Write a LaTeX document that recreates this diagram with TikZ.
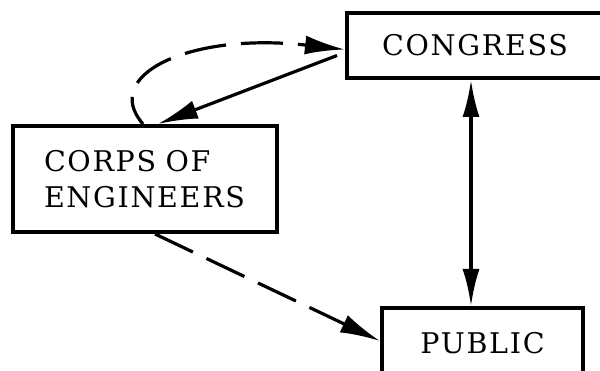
\documentclass[tikz,border=0pt]{standalone}
\usepackage{fontspec}
\usetikzlibrary{arrows.meta,calc}
\newfontfamily\lblfam{DejaVu Serif}[LetterSpace=6]
\newcommand\lblfont{\lblfam\fontsize{28.5}{36}\selectfont}
\begin{document}
\begin{tikzpicture}[x=1pt,y=-1pt,
  boxnode/.style={draw,line width=4pt,inner sep=0pt,font=\lblfont},
  conn/.style={line width=3.2pt},
  dashconn/.style={conn,dash pattern=on 42pt off 15pt},
  headA/.tip={Latex[length=40pt,width=19pt]},
  headB/.tip={Latex[length=37pt,width=17pt]}]
\useasboundingbox (0,0) rectangle (600,371);
\clip (0,0) rectangle (600,371);
\node[boxnode,minimum width=256pt,minimum height=65pt] (congress) at (475,45.5) {CONGRESS};
\node[boxnode,text width=202pt,inner xsep=31pt,minimum height=106pt,align=left] (corps) at (145,179) {CORPS OF\\ENGINEERS};
\node[boxnode,minimum width=201pt,minimum height=70pt] (public) at (482.5,343) {PUBLIC};
\coordinate (vx) at (471,0);
\draw[conn,headB-headB] (congress.south -| vx) -- (public.north -| vx);
\draw[conn,-headA] ([shift={(-8,10)}]congress.west) -- ([shift={(13,0)}]corps.north);
\draw[dashconn,dash phase=12pt,-headA] ([shift={(-2,0)}]corps.north) .. controls (100,75) and (190,32) .. ([shift={(0,4)}]congress.west);
\draw[dashconn,-headA] ([shift={(10,0)}]corps.south) -- ([shift={(0,-2)}]public.west);
\end{tikzpicture}
\end{document}
